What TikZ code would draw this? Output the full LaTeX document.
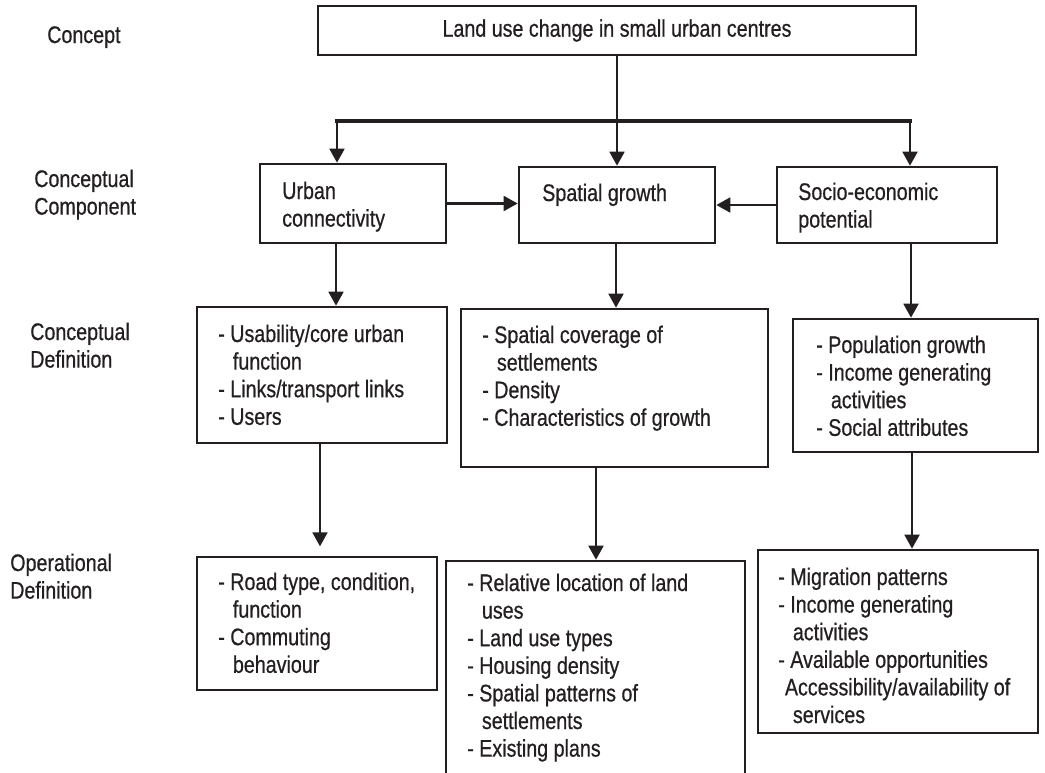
\documentclass[tikz,border=0pt]{standalone}
\usepackage{fontspec}
\setmainfont{Liberation Sans}[FakeStretch=0.82,FakeBold=0.6]
\usetikzlibrary{arrows.meta,fit}
\definecolor{ink}{HTML}{231F20}
\newcommand\contind{\hspace*{11pt}}
\newcommand\ml[1]{\begin{tabular}[t]{@{}l@{}}#1\end{tabular}}
\begin{document}
\begin{tikzpicture}[x=0.75pt,y=-0.75pt,
  every node/.style={font=\fontsize{18}{20.7}\selectfont, text=ink},
  box/.style={draw=ink, line width=1.9pt, inner sep=0pt},
  conn/.style={draw=ink, line width=2.1pt},
  bus/.style={conn, line width=2.5pt, line cap=rect},
  arr/.style={conn, -{Triangle[length=10.5pt,width=11pt]}},
  txt/.style={inner sep=0pt, anchor=base west},
  lbl/.style={inner sep=0pt, anchor=base west}
]
\useasboundingbox (0,0) rectangle (1045,772);
\clip (0,0) rectangle (1045,772);

% left column labels
\node[lbl] (l1) at (47,43) {Concept};
\node[lbl] (l2) at (34,187) {\ml{Conceptual\\Component}};
\node[lbl] (l3) at (30,340) {\ml{Conceptual\\Definition}};
\node[lbl] (l4) at (10,571) {\ml{Operational\\Definition}};

% boxes
\node[box, minimum width=598*0.75pt, minimum height=49*0.75pt] (top) at (617,30.5) {Land use change in small urban centres};
\node[box, fit={(260,164) (446,243)}] (urbanC) {};
\node[box, fit={(519,167) (715,243)}] (spatialC) {};
\node[box, fit={(777,167) (997,243)}] (socioC) {};
\node[box, fit={(197,307) (447,443)}] (urbanD) {};
\node[box, fit={(461,309) (768,467)}] (spatialD) {};
\node[box, fit={(793,319) (1038,452)}] (socioD) {};
\node[box, fit={(197,557) (437,690)}] (urbanO) {};
\node[box, fit={(446,561) (745,800)}] (spatialO) {};
\node[box, fit={(758,550) (1038,733)}] (socioO) {};

% texts
\node[txt] (urbanCT) at (282,199) {\ml{Urban\\connectivity}};
\node[txt] (spatialCT) at (542,201) {Spatial growth};
\node[txt] (socioCT) at (798,200) {\ml{Socio-economic\\potential}};
\node[txt] (urbanDT) at (218,342) {\ml{- Usability/core urban\\\contind function\\- Links/transport links\\- Users}};
\node[txt] (spatialDT) at (482,343) {\ml{- Spatial coverage of\\\contind settlements\\- Density\\- Characteristics of growth}};
\node[txt] (socioDT) at (816,353) {\ml{- Population growth\\- Income generating\\\contind activities\\- Social attributes}};
\node[txt] (urbanOT) at (218,590) {\ml{- Road type, condition,\\\contind function\\- Commuting\\\contind behaviour}};
\node[txt] (spatialOT) at (467,591) {\ml{- Relative location of land\\\contind uses\\- Land use types\\- Housing density\\- Spatial patterns of\\\contind settlements\\- Existing plans}};
\node[txt] (socioOT) at (778,585) {\ml{- Migration patterns\\- Income generating\\\contind activities\\- Available opportunities\\\hspace*{5pt}Accessibility/availability of\\\contind services}};

% connector coordinates
\coordinate (busL) at (337,121);
\coordinate (busR) at (910,121);
\coordinate (xu1) at (336,0);
\coordinate (xs1) at (616,0);
\coordinate (xo1) at (911,0);
\coordinate (xu2) at (320,0);
\coordinate (xs2) at (596,0);
\coordinate (xo2) at (912,0);

% connectors
\draw[arr] (top.south) -- (spatialC.north);
\draw[bus] (busL) -- (busR);
\draw[arr] (busL) -- (busL |- urbanC.north);
\draw[arr] (busR) -- (busR |- socioC.north);
\draw[arr] (urbanC.east) -- (urbanC.east -| spatialC.west);
\draw[arr] (socioC.west) -- (socioC.west -| spatialC.east);
\draw[arr] (urbanC.south -| xu1) -- (urbanD.north -| xu1);
\draw[arr] (spatialC.south -| xs1) -- (spatialD.north -| xs1);
\draw[arr] (socioC.south -| xo1) -- (socioD.north -| xo1);
\draw[arr, shorten >=7pt] (urbanD.south -| xu2) -- (urbanO.north -| xu2);
\draw[arr] (spatialD.south -| xs2) -- (spatialO.north -| xs2);
\draw[arr] (socioD.south -| xo2) -- (socioO.north -| xo2);
\end{tikzpicture}
\end{document}
